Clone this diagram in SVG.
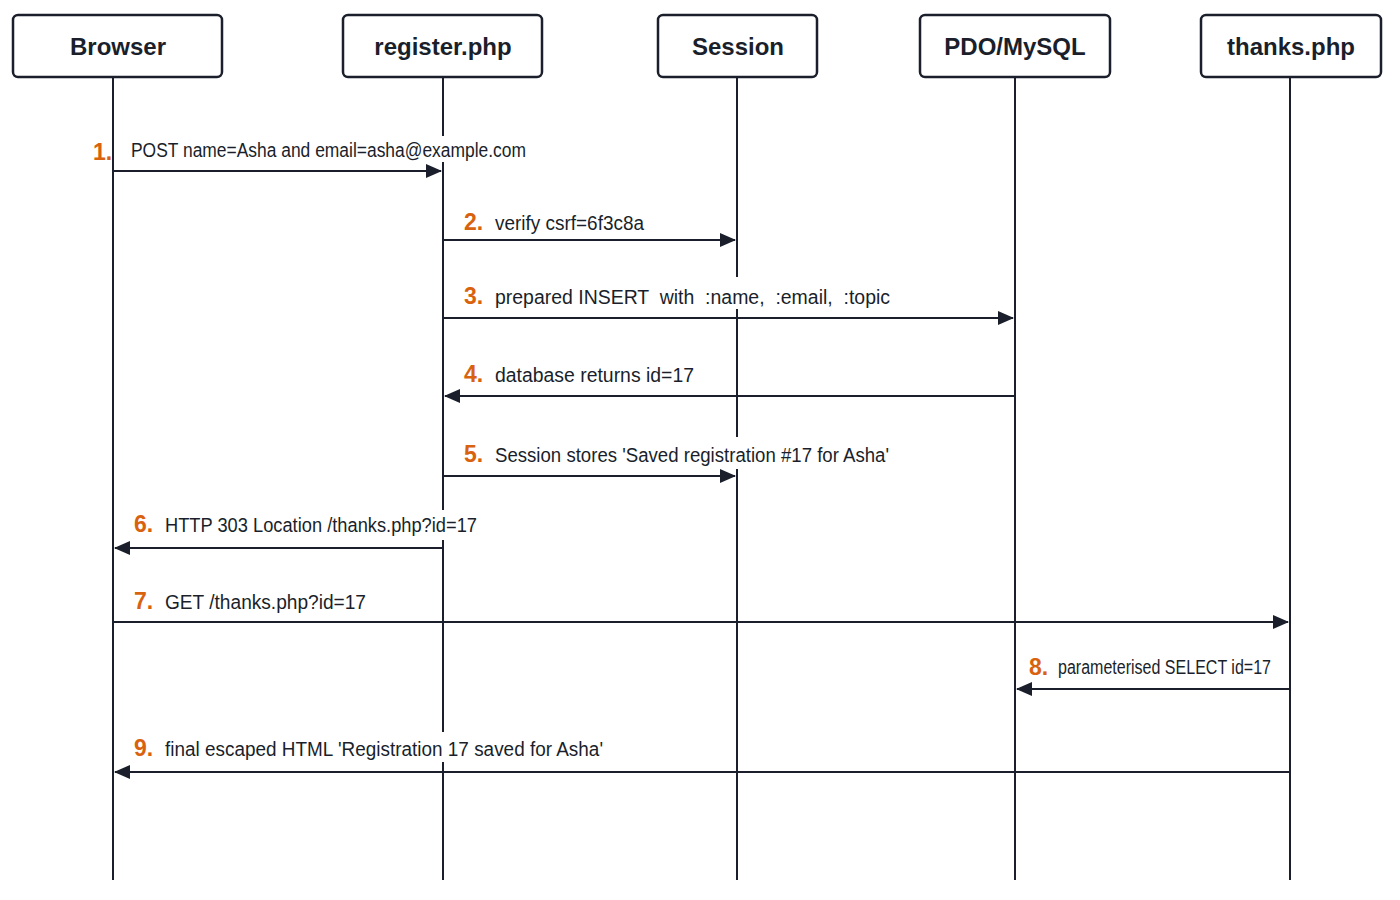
<svg xmlns="http://www.w3.org/2000/svg" width="1400" height="900" viewBox="0 0 1400 900">
<style>
.box{fill:#fff;stroke:#1a1f2b;stroke-width:2.5}
.title{font-family:"Liberation Sans",Arial,sans-serif;font-weight:bold;font-size:24px;fill:#1a1f2b;text-anchor:middle}
.life{stroke:#1a1f2b;stroke-width:2}
.msg{stroke:#1a1f2b;stroke-width:2;fill:none;marker-end:url(#ah)}
.bg{fill:#fff}
.lbl{font-family:"Liberation Sans",Arial,sans-serif;font-size:20px;fill:#1a1f2b}
.num{font-family:"Liberation Sans",Arial,sans-serif;font-size:23px;font-weight:bold;fill:#d9620f}
</style>
<defs><marker id="ah" markerWidth="16" markerHeight="14" refX="15" refY="7" orient="auto" markerUnits="userSpaceOnUse"><path d="M0,0 L16,7 L0,14 Z" fill="#1a1f2b"/></marker></defs>
<rect width="1400" height="900" fill="#fff"/>
<g id="lifelines">
<line class="life" x1="113" y1="77" x2="113" y2="880"/>
<line class="life" x1="443" y1="77" x2="443" y2="880"/>
<line class="life" x1="737" y1="77" x2="737" y2="880"/>
<line class="life" x1="1015" y1="77" x2="1015" y2="880"/>
<line class="life" x1="1290" y1="77" x2="1290" y2="880"/>
</g>
<g id="node-browser"><rect class="box" x="13" y="15" width="209" height="62" rx="5"/><text class="title" x="118" y="55">Browser</text></g>
<g id="node-register"><rect class="box" x="343" y="15" width="199" height="62" rx="5"/><text class="title" x="443" y="55">register.php</text></g>
<g id="node-session"><rect class="box" x="658" y="15" width="159" height="62" rx="5"/><text class="title" x="738" y="55">Session</text></g>
<g id="node-pdo"><rect class="box" x="920" y="15" width="190" height="62" rx="5"/><text class="title" x="1015" y="55">PDO/MySQL</text></g>
<g id="node-thanks"><rect class="box" x="1201" y="15" width="180" height="62" rx="5"/><text class="title" x="1291" y="55">thanks.php</text></g>
<g id="label-bgs">
<rect class="bg" x="128" y="136" width="402" height="26"/>
<rect class="bg" x="490" y="277" width="405" height="32"/>
<rect class="bg" x="490" y="437" width="402" height="32"/>
<rect class="bg" x="160" y="510" width="322" height="30"/>
<rect class="bg" x="160" y="732" width="448" height="30"/>
</g>
<g id="connectors">
<line class="msg" x1="113" y1="171" x2="441" y2="171"/>
<line class="msg" x1="443" y1="240" x2="735" y2="240"/>
<line class="msg" x1="443" y1="318" x2="1013" y2="318"/>
<line class="msg" x1="1015" y1="396" x2="445" y2="396"/>
<line class="msg" x1="443" y1="476" x2="735" y2="476"/>
<line class="msg" x1="443" y1="548" x2="115" y2="548"/>
<line class="msg" x1="113" y1="622" x2="1288" y2="622"/>
<line class="msg" x1="1290" y1="689" x2="1017" y2="689"/>
<line class="msg" x1="1290" y1="772" x2="115" y2="772"/>
</g>
<g id="labels">
<text class="num" x="93" y="160">1.</text><text class="lbl" x="131" y="157" font-size="18" textLength="395" lengthAdjust="spacingAndGlyphs">POST name=Asha and email=asha@example.com</text>
<text class="num" x="464" y="230">2.</text><text class="lbl" x="495" y="230" textLength="149" lengthAdjust="spacingAndGlyphs">verify csrf=6f3c8a</text>
<text class="num" x="464" y="304">3.</text><text class="lbl" x="495" y="304" textLength="395" lengthAdjust="spacingAndGlyphs" xml:space="preserve">prepared INSERT  with  :name,  :email,  :topic</text>
<text class="num" x="464" y="382">4.</text><text class="lbl" x="495" y="382" textLength="199" lengthAdjust="spacingAndGlyphs">database returns id=17</text>
<text class="num" x="464" y="462">5.</text><text class="lbl" x="495" y="462" textLength="394" lengthAdjust="spacingAndGlyphs">Session stores 'Saved registration #17 for Asha'</text>
<text class="num" x="134" y="532">6.</text><text class="lbl" x="165" y="532" textLength="312" lengthAdjust="spacingAndGlyphs">HTTP 303 Location /thanks.php?id=17</text>
<text class="num" x="134" y="609">7.</text><text class="lbl" x="165" y="609" textLength="201" lengthAdjust="spacingAndGlyphs">GET /thanks.php?id=17</text>
<text class="num" x="1029" y="675">8.</text><text class="lbl" x="1058" y="674" font-size="18" textLength="213" lengthAdjust="spacingAndGlyphs">parameterised SELECT id=17</text>
<text class="num" x="134" y="756">9.</text><text class="lbl" x="165" y="756" textLength="438" lengthAdjust="spacingAndGlyphs">final escaped HTML 'Registration 17 saved for Asha'</text>
</g>
</svg>
